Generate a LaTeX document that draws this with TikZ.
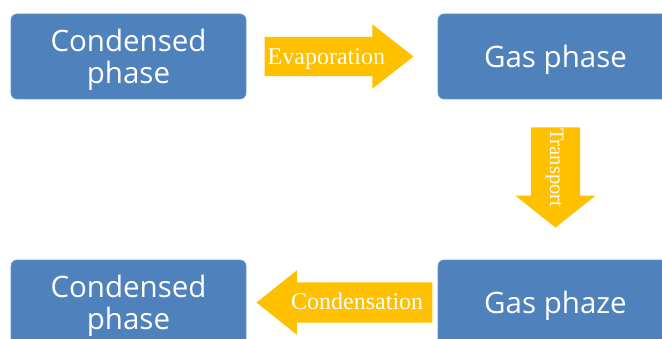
\documentclass[tikz,border=0pt]{standalone}
\usepackage{fontspec}
\setmainfont{Liberation Serif}
\newfontfamily\boxfont{Open Sans}
\usetikzlibrary{positioning,shapes.arrows}
\definecolor{phaseblue}{RGB}{79,129,189}
\definecolor{flowgold}{RGB}{255,192,0}
\tikzset{
  phasebox/.style={rectangle, rounded corners=6pt, fill=phaseblue, draw=phaseblue!85!white, line width=0.6pt,
    minimum width=235pt, minimum height=85pt, inner sep=0pt, text=white, align=center, text depth=0pt,
    font=\boxfont\fontsize{29.5}{32}\selectfont},
  flowarrow/.style={single arrow, fill=flowgold, draw=none, text=white, inner xsep=0pt, inner ysep=0pt,
    single arrow head indent=0pt}
}
\begin{document}
\begin{tikzpicture}[x=1pt,y=1pt]
\useasboundingbox (0,0) rectangle (662,338);
\clip (0,0) rectangle (662,338);
\node[phasebox] (cond1) at (128.5,281.5) {Condensed\\phase};
\node[phasebox] (gas1) at (555.5,281.5) {Gas phase};
\node[phasebox] (cond2) at (128.5,35.5) {Condensed\\phase};
\node[phasebox] (gas2) at (555.5,35.5) {Gas phaze};
\node[flowarrow, right=18pt of cond1, minimum height=149pt, text height=27pt, text depth=12pt,
  single arrow head extend=12.5pt, single arrow tip angle=76, font=\fontsize{24}{27}\selectfont] (evap) {Evaporation};
\node[flowarrow, below=28pt of gas1, anchor=west, rotate=-90, minimum height=100pt, text height=30pt, text depth=19pt,
  single arrow head extend=15.5pt, single arrow tip angle=103, font=\fontsize{20.5}{24}\selectfont] (trans) {Transport};
\node[flowarrow, left=5pt of gas2, shape border rotate=180, minimum height=176pt, text height=27pt, text depth=13pt,
  single arrow head extend=12pt, single arrow tip angle=77, font=\fontsize{24}{27}\selectfont] (cond) {Condensation};
\end{tikzpicture}
\end{document}
